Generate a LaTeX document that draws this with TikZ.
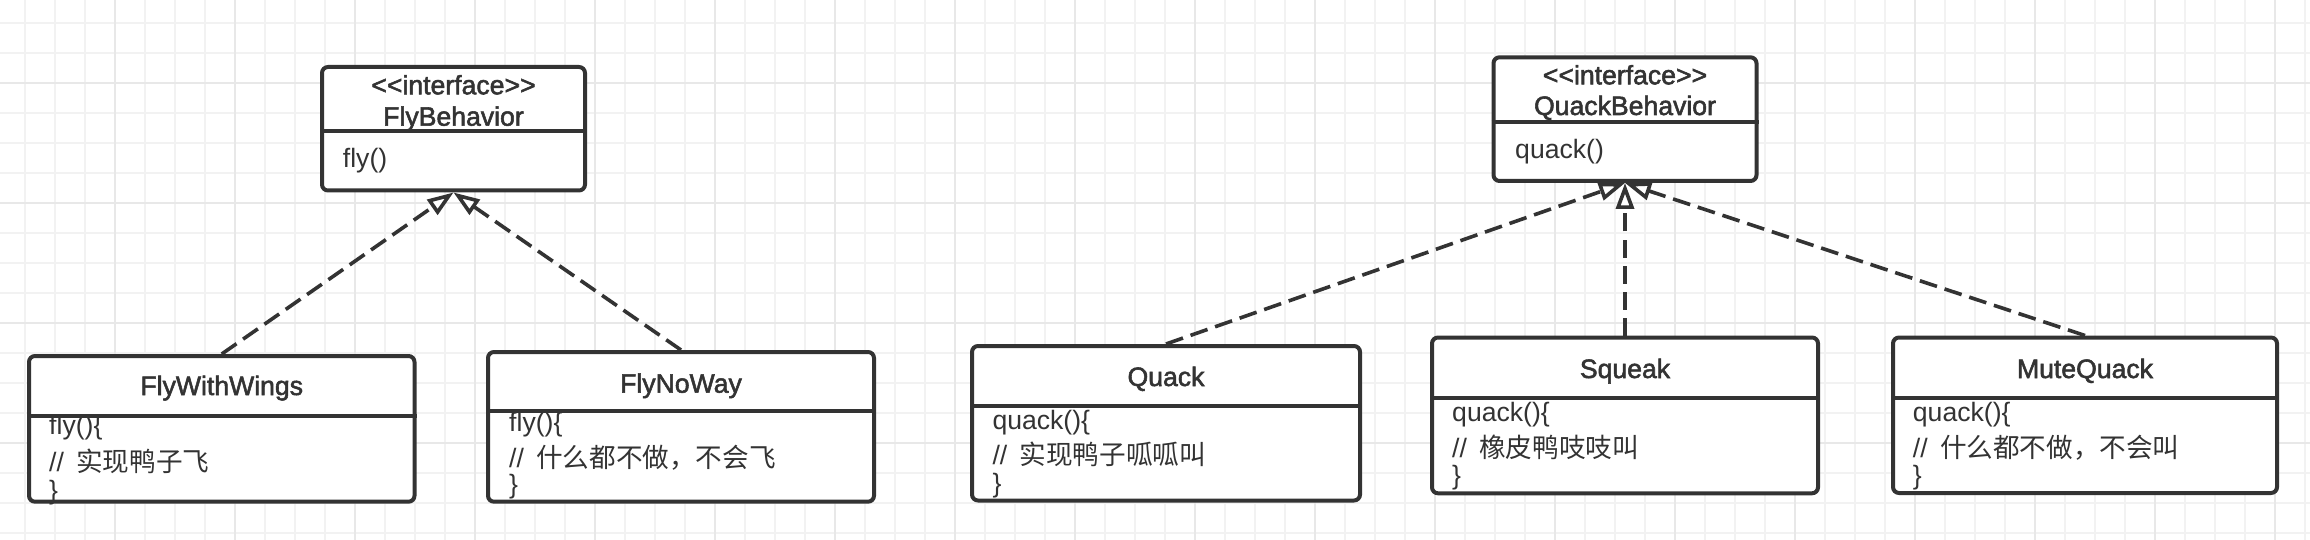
\documentclass[tikz,border=0pt]{standalone}
\usepackage{fontspec}
\setmainfont{Liberation Sans}
\newfontfamily\cjk{Noto Sans CJK SC}
\newfontfamily\titlefont{Liberation Sans}[FakeBold=2]
\usetikzlibrary{arrows.meta}
\definecolor{ink}{HTML}{333333}
\definecolor{gridminor}{HTML}{F2F2F2}
\definecolor{gridmajor}{HTML}{E8E8E8}
\begin{document}
\begin{tikzpicture}[x=1pt,y=-1pt,
  every node/.style={text=ink, font=\fontsize{26.6}{32}\selectfont},
  box/.style={draw=ink, line width=4pt, fill=white, rounded corners=6pt, inner sep=0pt, rectangle},
  divider/.style={draw=ink, line width=4pt},
  title/.style={anchor=base, inner sep=0pt, font=\fontsize{26.6}{32}\selectfont\titlefont},
  member/.style={anchor=base west, inner sep=0pt},
  impl/.style={draw=ink, line width=3.6pt, dash pattern=on 18pt off 8pt,
    -{Triangle[open, length=26pt, width=18pt, fill=white]}},
  gmin/.style={draw=gridminor, line width=2pt},
  gmaj/.style={draw=gridmajor, line width=2pt}]
\fill[white] (0,0) rectangle (2310,540);
\useasboundingbox (0,0) rectangle (2310,540);
\begin{scope}
\clip (0,0) rectangle (2310,540);
\foreach \gx in {25,55,...,2305} \draw[gmin] (\gx,0) -- (\gx,540);
\foreach \gy in {23,53,...,533} \draw[gmin] (0,\gy) -- (2310,\gy);
\foreach \gx in {115,235,...,2275} \draw[gmaj] (\gx,0) -- (\gx,540);
\foreach \gy in {83,203,323,443} \draw[gmaj] (0,\gy) -- (2310,\gy);
\end{scope}

% ---- FlyBehavior
\node[box, minimum width=263pt, minimum height=123.5pt] (flyb) at (453.5,128.75) {};
\draw[divider] (flyb.west |- 0,131) -- (flyb.east |- 0,131);
\node[title] (flyb-st) at (453.5,94.3) {<\kern0pt<interface>\kern0pt>};
\node[title] (flyb-t) at (453.5,125.7) {FlyBehavior};
\node[member] (flyb-m) at (342.7,168) {fly()};

% ---- FlyWithWings
\node[box, minimum width=385.5pt, minimum height=145.7pt] (fww) at (221.75,428.85) {};
\draw[divider] (fww.west |- 0,416) -- (fww.east |- 0,416);
\node[title] (fww-t) at (221.75,395) {FlyWithWings};
\node[member] (fww-1) at (49,434.4) {fly()\{};
\node[member] (fww-2) at (49,471.2) {//\hspace{5pt} {\cjk 实现鸭子飞}};
\node[member] (fww-3) at (49,499.4) {\}};

% ---- FlyNoWay
\node[box, minimum width=386pt, minimum height=149.7pt] (fnw) at (681,426.85) {};
\draw[divider] (fnw.west |- 0,411) -- (fnw.east |- 0,411);
\node[title] (fnw-t) at (681,392.7) {FlyNoWay};
\node[member] (fnw-1) at (509,431) {fly()\{};
\node[member] (fnw-2) at (509,467.8) {//\hspace{5pt} {\cjk 什么都不做，不会飞}};
\node[member] (fnw-3) at (509,493.7) {\}};

% ---- QuackBehavior
\node[box, minimum width=263pt, minimum height=123.7pt] (qb) at (1625,119.15) {};
\draw[divider] (qb.west |- 0,121.7) -- (qb.east |- 0,121.7);
\node[title] (qb-st) at (1625,84.3) {<\kern0pt<interface>\kern0pt>};
\node[title] (qb-t) at (1625,115) {QuackBehavior};
\node[member] (qb-m) at (1515,158.5) {quack()};

% ---- Quack
\node[box, minimum width=388pt, minimum height=154.5pt] (quack) at (1166,423.25) {};
\draw[divider] (quack.west |- 0,406) -- (quack.east |- 0,406);
\node[title] (quack-t) at (1166,386) {Quack};
\node[member] (quack-1) at (992.3,429.4) {quack()\{};
\node[member] (quack-2) at (992.3,464.5) {//\hspace{5pt} {\cjk 实现鸭子呱呱叫}};
\node[member] (quack-3) at (992.3,492.7) {\}};

% ---- Squeak
\node[box, minimum width=386pt, minimum height=155.8pt] (squeak) at (1625,415.4) {};
\draw[divider] (squeak.west |- 0,398.3) -- (squeak.east |- 0,398.3);
\node[title] (squeak-t) at (1625,378) {Squeak};
\node[member] (squeak-1) at (1452,421.1) {quack()\{};
\node[member] (squeak-2) at (1452,457.8) {//\hspace{5pt} {\cjk 橡皮鸭吱吱叫}};
\node[member] (squeak-3) at (1452,484.4) {\}};

% ---- MuteQuack
\node[box, minimum width=384pt, minimum height=155.5pt] (mute) at (2085,415.25) {};
\draw[divider] (mute.west |- 0,398.3) -- (mute.east |- 0,398.3);
\node[title] (mute-t) at (2085,378) {MuteQuack};
\node[member] (mute-1) at (1912.7,421.1) {quack()\{};
\node[member] (mute-2) at (1912.7,457.8) {//\hspace{5pt} {\cjk 什么都不做，不会叫}};
\node[member] (mute-3) at (1912.7,484.4) {\}};

% ---- realizations
\draw[impl] (fww.north) -- (flyb.south);
\draw[impl] (fnw.north) -- (flyb.south);
\draw[impl] (quack.north) -- (qb.south);
\draw[impl] (squeak.north) -- (qb.south);
\draw[impl] (mute.north) -- (qb.south);
\end{tikzpicture}
\end{document}
